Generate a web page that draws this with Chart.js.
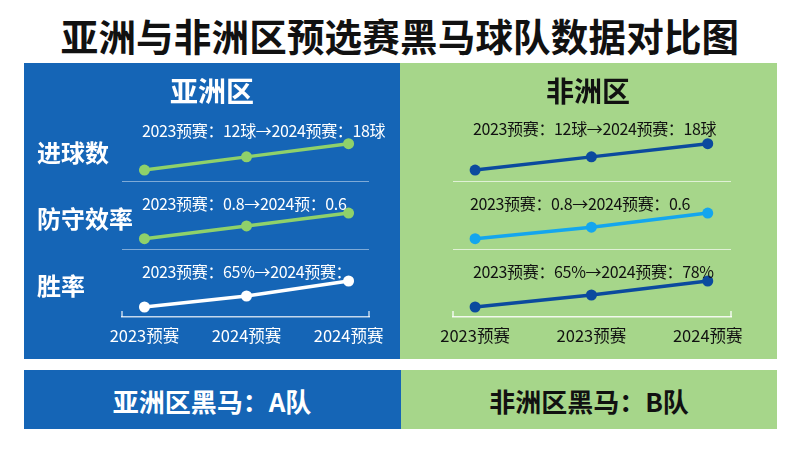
<!DOCTYPE html>
<html>
<head>
<meta charset="utf-8">
<script src="https://cdn.jsdelivr.net/npm/chart.js@4"></script>
<style>
    body {
        margin: 0;
        width: 800px;
        height: 450px;
        background: #fff;
        position: relative;
        overflow: hidden;
        font-family: "Noto Sans CJK SC", sans-serif;
    }
    .abs { position: absolute; white-space: nowrap; line-height: 1; transform: translateY(-50%); }
    .box { position: absolute; }
    .title { left: 0; width: 800px; text-align: center; top: 35px; font-size: 37.5px; font-weight: 700; color: #111; letter-spacing: 0.2px; }
    .asia { background: #1565b6; }
    .africa { background: #a6d68a; }
    .head { font-size: 28px; font-weight: 700; text-align: center; width: 200px; }
    .row-label { font-size: 24px; font-weight: 700; color: #fff; left: 37px; }
    .note { font-size: 16px; letter-spacing: -0.35px; }
    .foot { font-size: 26px; font-weight: 700; text-align: center; width: 376px; }
    canvas { position: absolute; }
</style>
</head>
<body>
    <div class="abs title">亚洲与非洲区预选赛黑马球队数据对比图</div>

    <div class="box asia" style="left:24px; top:63px; width:376px; height:296px;"></div>
    <div class="box africa" style="left:400px; top:63px; width:377px; height:296px;"></div>
    <div class="box asia" style="left:24px; top:370px; width:377px; height:59px;"></div>
    <div class="box africa" style="left:401px; top:370px; width:376px; height:59px;"></div>

    <canvas id="asia-chart" width="376" height="296" style="left:24px; top:63px;"></canvas>
    <canvas id="africa-chart" width="376" height="296" style="left:400px; top:63px;"></canvas>

    <div class="abs head" style="left:112px; top:90px; color:#fff;">亚洲区</div>
    <div class="abs head" style="left:488px; top:90px; color:#111;">非洲区</div>

    <div class="abs row-label" style="top:152px;">进球数</div>
    <div class="abs row-label" style="top:218px;">防守效率</div>
    <div class="abs row-label" style="top:285px;">胜率</div>

    <div class="abs note" style="left:142px; top:130px; color:#fff;">2023预赛：12球→2024预赛：18球</div>
    <div class="abs note" style="left:142px; top:203px; color:#fff;">2023预赛：0.8→2024预：0.6</div>
    <div class="abs note" style="left:142px; top:271px; color:#fff;">2023预赛：65%→2024预赛：</div>

    <div class="abs note" style="left:473px; top:128px; color:#111;">2023预赛：12球→2024预赛：18球</div>
    <div class="abs note" style="left:470px; top:203px; color:#111;">2023预赛：0.8→2024预赛：0.6</div>
    <div class="abs note" style="left:473px; top:271px; color:#111;">2023预赛：65%→2024预赛：78%</div>

    <div class="abs foot" style="left:24px; top:401px; color:#fff;">亚洲区黑马：A队</div>
    <div class="abs foot" style="left:401px; top:401px; color:#111;">非洲区黑马：B队</div>

<script>
// 数据
const asiaLabels = ['2023预赛', '2024预赛', '2024预赛'];
const africaLabels = ['2023预赛', '2023预赛', '2024预赛'];

const asiaGoals = [12, 15, 18];
const asiaDefense = [0.8, 0.7, 0.6];
const asiaWinRate = [65, 70.5, 78];

const africaGoals = [12, 15, 18];
const africaDefense = [0.8, 0.71, 0.6];
const africaWinRate = [65, 71, 78];

const FONT = '"Noto Sans CJK SC", sans-serif';

// 分隔线和轴两端的小刻度
const rowLinesPlugin = {
    id: 'rowLines',
    beforeDatasetsDraw(chart, args, opts) {
        const { ctx, chartArea, scales } = chart;
        ctx.save();
        ctx.strokeStyle = opts.lineColor;
        ctx.lineWidth = 1;
        ['yGoal', 'yDef'].forEach(id => {
            const y = Math.round(scales[id].bottom) + 0.5;
            ctx.beginPath();
            ctx.moveTo(chartArea.left, y);
            ctx.lineTo(chartArea.right, y);
            ctx.stroke();
        });
        const axisY = scales.x.top;
        ctx.strokeStyle = opts.axisColor;
        ctx.lineWidth = 1.5;
        [chartArea.left, chartArea.right].forEach(x => {
            ctx.beginPath();
            ctx.moveTo(x, axisY);
            ctx.lineTo(x, axisY - 6);
            ctx.stroke();
        });
        ctx.restore();
    }
};

function toPoints(values) {
    return values.map((v, i) => ({ x: i, y: v }));
}

function lineSet(values, color, axisId) {
    return {
        data: toPoints(values),
        yAxisID: axisId,
        borderColor: color,
        backgroundColor: color,
        borderWidth: 3.5,
        pointRadius: 5.5,
        pointBorderWidth: 0,
        tension: 0,
        clip: false
    };
}

function makePanel(canvasId, labels, goals, defense, winRate, cfg) {
    const ctx = document.getElementById(canvasId).getContext('2d');
    return new Chart(ctx, {
        type: 'line',
        data: {
            datasets: [
                lineSet(goals, cfg.colors[0], 'yGoal'),
                lineSet(defense, cfg.colors[1], 'yDef'),
                lineSet(winRate, cfg.colors[2], 'yWin')
            ]
        },
        options: {
            responsive: false,
            animation: false,
            layout: { padding: cfg.padding },
            plugins: {
                legend: { display: false },
                tooltip: { enabled: false },
                rowLines: { lineColor: cfg.lineColor, axisColor: cfg.axisColor }
            },
            scales: {
                x: {
                    type: 'linear',
                    min: cfg.xMin,
                    max: cfg.xMax,
                    afterBuildTicks: scale => {
                        scale.ticks = labels.map((_, i) => ({ value: i }));
                    },
                    afterFit: scale => { scale.height = 42; },
                    grid: { display: false, drawTicks: false },
                    border: { display: true, color: cfg.axisColor, width: 1.5 },
                    ticks: {
                        color: cfg.textColor,
                        padding: 9,
                        autoSkip: false,
                        maxRotation: 0,
                        font: { size: 16.5, family: FONT },
                        callback: value => labels[value]
                    }
                },
                yGoal: { type: 'linear', position: 'left', stack: 'rows', weight: 3, display: false, min: 9.5, max: 25 },
                yDef: { type: 'linear', position: 'left', stack: 'rows', weight: 2, display: false, reverse: true, min: 0.35, max: 0.88 },
                yWin: { type: 'linear', position: 'left', stack: 'rows', weight: 1, display: false, min: 60, max: 94 }
            }
        },
        plugins: [rowLinesPlugin]
    });
}

makePanel('asia-chart', asiaLabels, asiaGoals, asiaDefense, asiaWinRate, {
    colors: ['#8fd16a', '#8fd16a', '#ffffff'],
    textColor: '#ffffff',
    lineColor: 'rgba(255,255,255,0.45)',
    axisColor: 'rgba(255,255,255,0.75)',
    padding: { left: 98, right: 31, top: 50, bottom: 0 },
    xMin: -0.22,
    xMax: 2.2
});

makePanel('africa-chart', africaLabels, africaGoals, africaDefense, africaWinRate, {
    colors: ['#0b4a9e', '#14a6ee', '#0b4a9e'],
    textColor: '#111111',
    lineColor: 'rgba(255,255,255,0.65)',
    axisColor: 'rgba(255,255,255,0.85)',
    padding: { left: 53, right: 45, top: 50, bottom: 0 },
    xMin: -0.19,
    xMax: 2.2
});
</script>
</body>
</html>
